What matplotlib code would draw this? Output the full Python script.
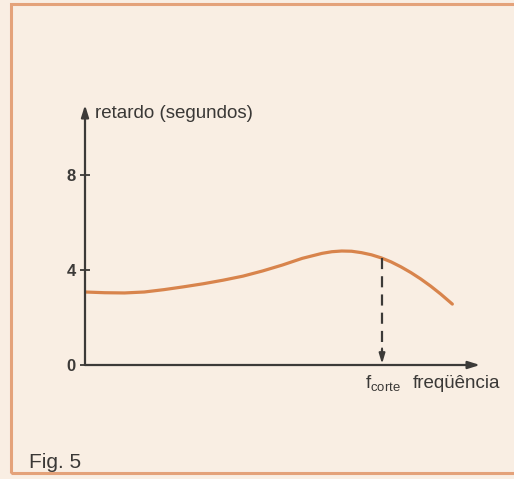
import matplotlib
matplotlib.use("Agg")
import matplotlib.pyplot as plt
from matplotlib.patches import Rectangle

plt.rcParams['font.family'] = ['Liberation Sans', 'DejaVu Sans']
plt.rcParams['mathtext.fontset'] = 'custom'
plt.rcParams['mathtext.rm'] = 'Liberation Sans'

# data
freq = [0, 0.5, 1, 1.5, 2, 2.5, 3, 3.5, 4, 4.5, 5, 5.5, 6, 6.25, 6.5, 6.75,
        7, 7.25, 7.5, 7.75, 8, 8.25, 8.5, 8.75, 9, 9.3]
delay = [3.08, 3.05, 3.04, 3.08, 3.18, 3.3, 3.43, 3.58, 3.75, 3.97, 4.22, 4.5,
         4.71, 4.78, 4.81, 4.8, 4.74, 4.65, 4.52, 4.35, 4.14, 3.9, 3.63, 3.33,
         3.0, 2.57]
f_cut = 7.52
f_cut_delay = 4.52
yticks = [0, 4, 8]
ytick_labels = ['0', '4', '8']

BG = '#F9EEE3'
AXC = '#3c3a38'
CURVE = '#D8844C'
TXT = '#3a3836'

fig = plt.figure(figsize=(5.14, 4.79), dpi=100, facecolor=BG)
# frame
fig.patches.append(Rectangle((11 / 514, (479 - 473) / 479), 1.2, (473 - 4) / 479,
                             transform=fig.transFigure, fill=False,
                             edgecolor='#E4A27A', linewidth=2.2))

ax = fig.add_axes([85 / 514, (479 - 365) / 479, 395 / 514, 260 / 479])
ax.set_facecolor('none')
ax.set_xlim(0, 10)
ax.set_ylim(0, 260 / 23.7)
for s in ax.spines.values():
    s.set_visible(False)

# axes with arrows
ax.annotate('', xy=(1, 0), xytext=(0, 0), xycoords='axes fraction',
            arrowprops=dict(arrowstyle='-|>,head_length=0.7,head_width=0.22',
                            color=AXC, lw=1.6, shrinkA=0, shrinkB=0))
ax.annotate('', xy=(0, 1), xytext=(0, 0), xycoords='axes fraction',
            arrowprops=dict(arrowstyle='-|>,head_length=0.7,head_width=0.22',
                            color=AXC, lw=1.6, shrinkA=0, shrinkB=0))

ax.set_xticks([])
ax.set_yticks(yticks)
ax.set_yticklabels(ytick_labels, fontsize=12, fontweight='bold', color=AXC)
ax.tick_params(axis='y', direction='inout', length=7, width=1.3, color=AXC, pad=3)

ax.plot(freq, delay, color=CURVE, lw=2.3, solid_capstyle='round',
        solid_joinstyle='round')

# dashed cutoff line with arrow
ax.plot([f_cut, f_cut], [f_cut_delay, 0.55], color=AXC, lw=1.6,
        dashes=(5, 3.2))
ax.annotate('', xy=(f_cut, 0.05), xytext=(f_cut, 0.7), xycoords='data',
            arrowprops=dict(arrowstyle='-|>,head_length=0.6,head_width=0.18',
                            color=AXC, lw=1.4, shrinkA=0, shrinkB=0))

ax.text(0.25, 10.63, 'retardo (segundos)', fontsize=13.5, color=TXT,
        ha='left', va='center')
ax.text(7.55, -0.78, r'$\mathregular{f_{corte}}$', fontsize=13.5, color=TXT,
        ha='center', va='center')
ax.text(8.3, -0.76, 'freqüência', fontsize=13.5, color=TXT,
        ha='left', va='center')

fig.text(29 / 514, (479 - 462) / 479, 'Fig. 5', fontsize=15, color=TXT,
         ha='left', va='center')

fig.savefig('out.png', dpi=100, facecolor=BG)
